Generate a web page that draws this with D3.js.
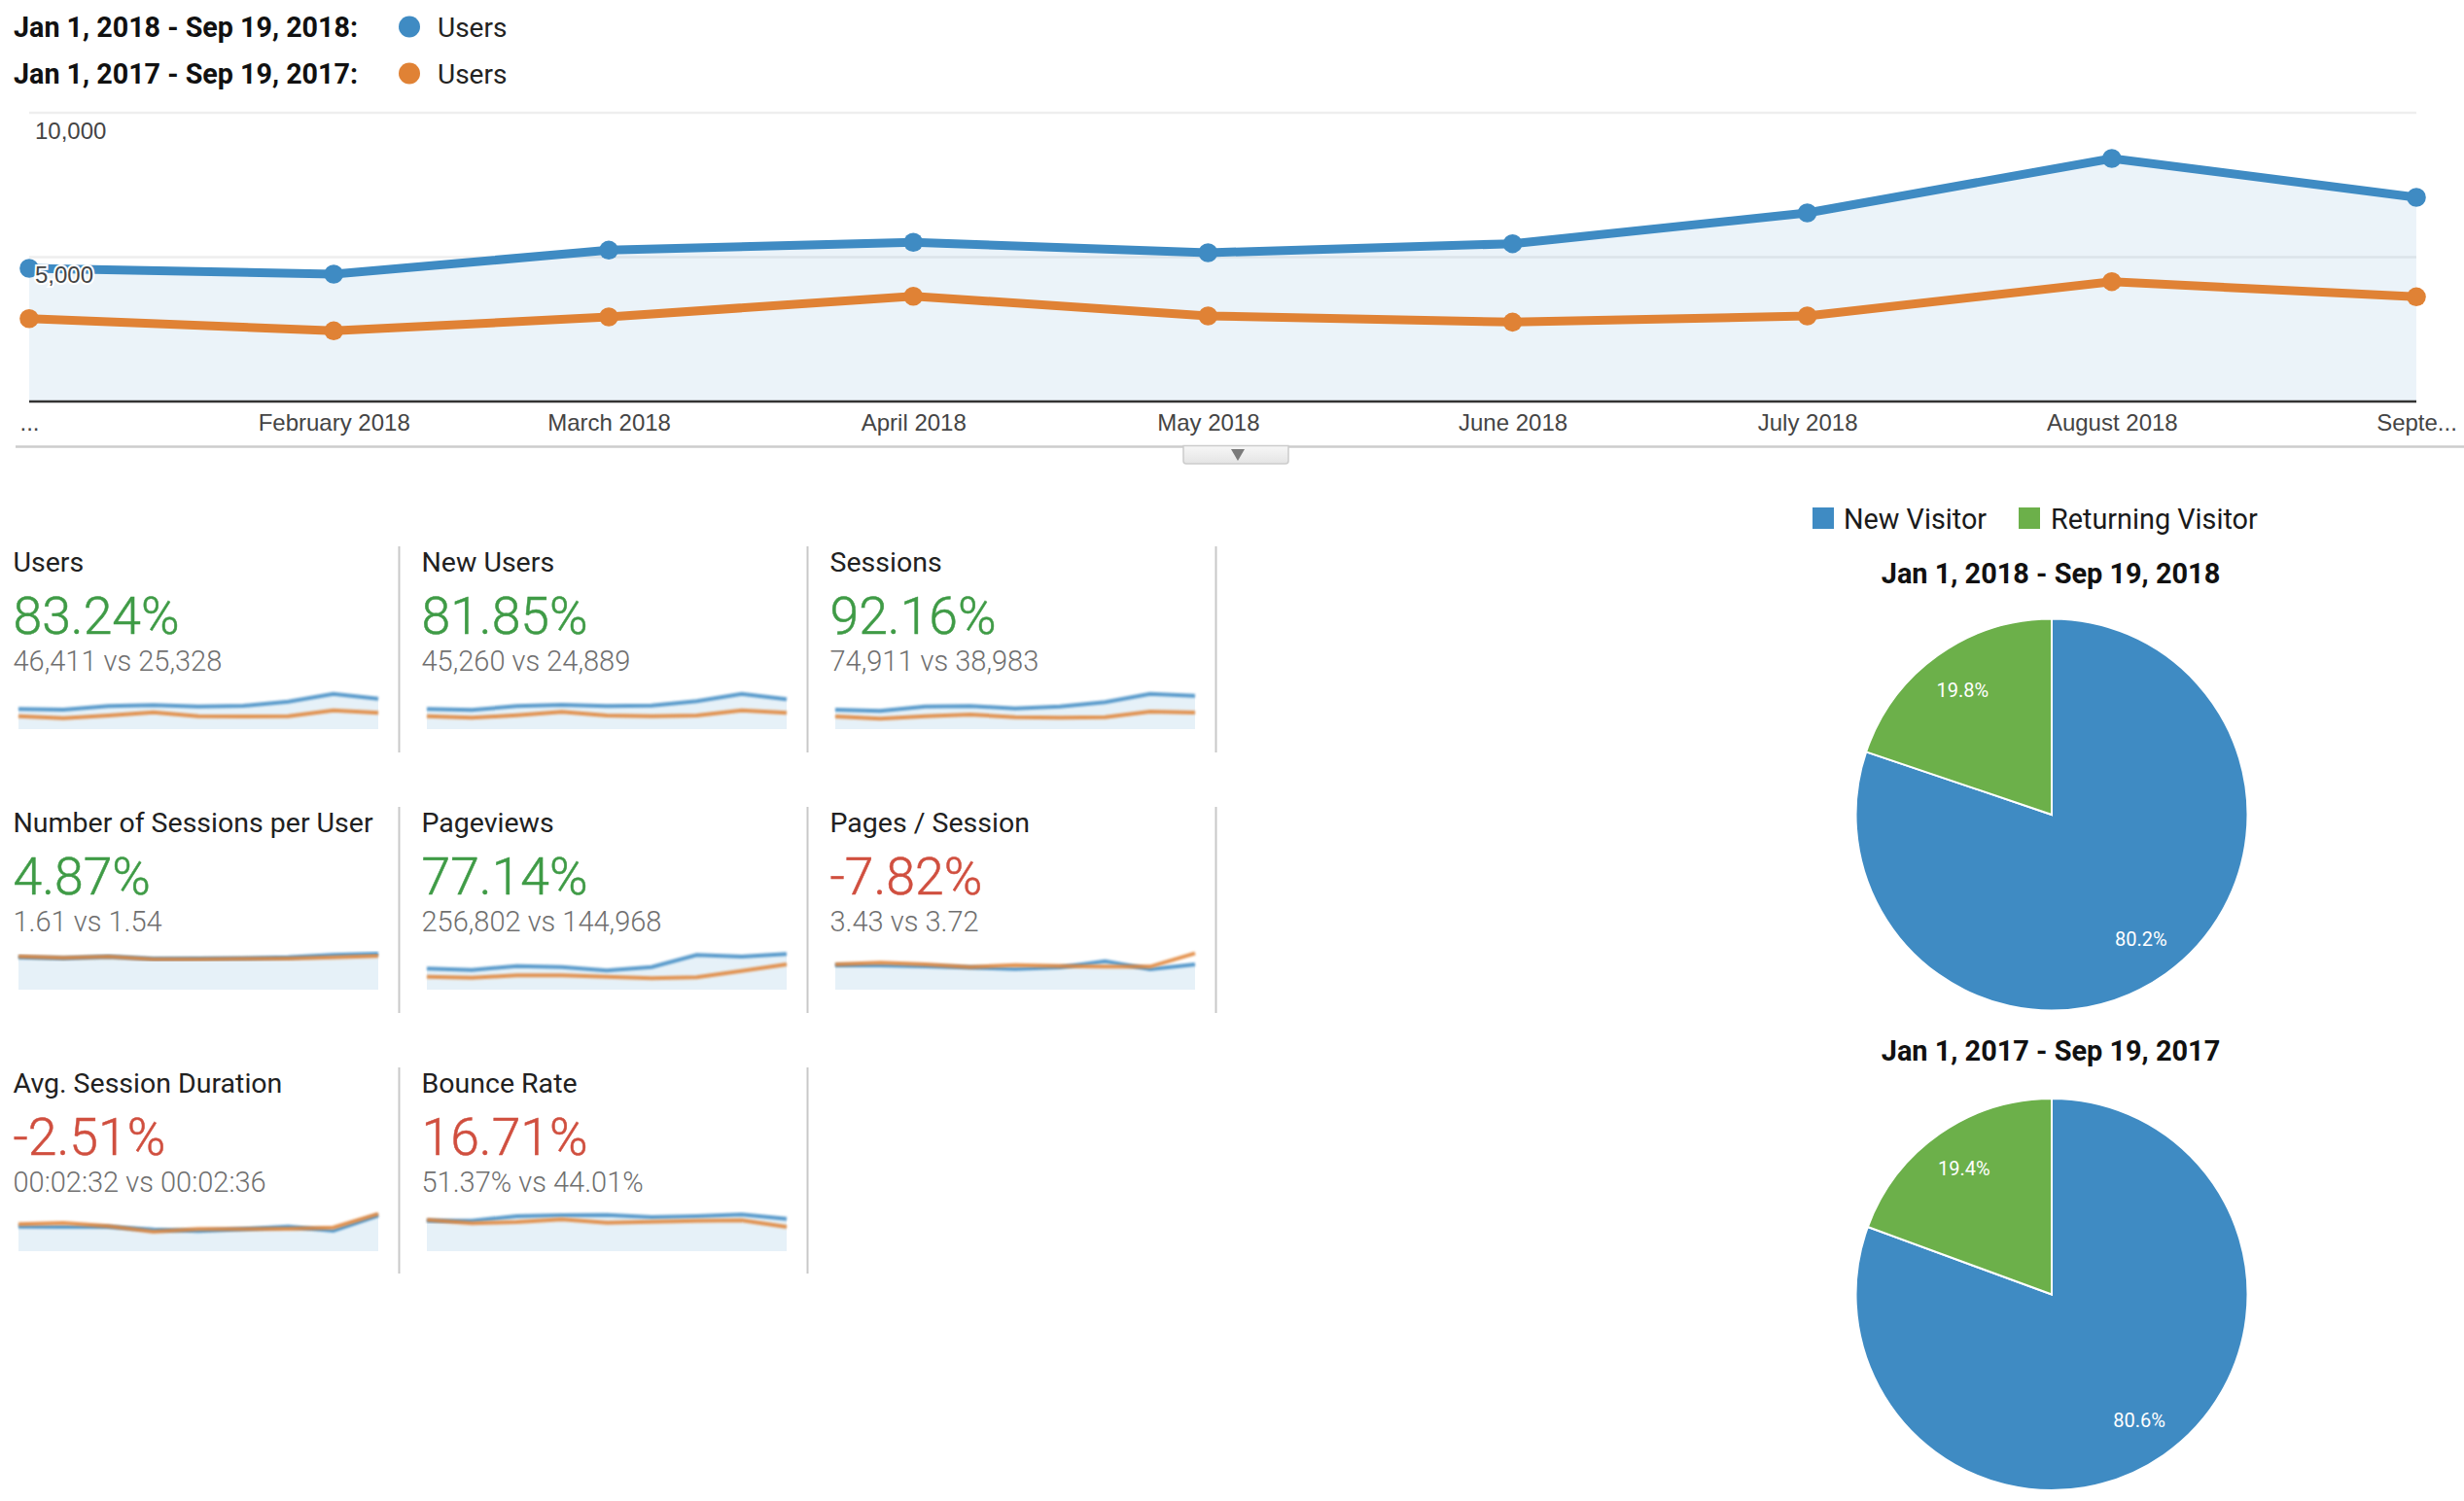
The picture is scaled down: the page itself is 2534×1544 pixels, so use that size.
<!DOCTYPE html>
<html>
<head>
<meta charset="utf-8">
<script src="https://d3js.org/d3.v7.min.js"></script>
<style>
  html, body { margin: 0; padding: 0; background: #fff; }
  svg { display: block; }
  text { font-family: Roboto, sans-serif; }
  .axis text { font-family: "Liberation Sans", Arial, sans-serif; fill: #444; font-size: 24px; }
  .axis path, .axis line { display: none; }
</style>
</head>
<body>
<script>
const width = 2534, height = 1544;

// main chart
const months = ["2018-01-01", "2018-02-01", "2018-03-01", "2018-04-01", "2018-05-01",
                "2018-06-01", "2018-07-01", "2018-08-01", "2018-09-01"];
const monthLabels = ["...", "February 2018", "March 2018", "April 2018", "May 2018",
                     "June 2018", "July 2018", "August 2018", "Septe..."];
const users2018 = [4613, 4411, 5242, 5512, 5152, 5465, 6532, 8418, 7070];
const users2017 = [2872, 2447, 2929, 3646, 2963, 2750, 2963, 4152, 3626];
const yTicks = [5000, 10000];
const rangeLabels = ["Jan 1, 2018 - Sep 19, 2018", "Jan 1, 2017 - Sep 19, 2017"];

// score cards
const cardTitles = ["Users", "New Users", "Sessions", "Number of Sessions per User", "Pageviews",
                    "Pages / Session", "Avg. Session Duration", "Bounce Rate"];
const cardDeltas = ["83.24%", "81.85%", "92.16%", "4.87%", "77.14%", "-7.82%", "-2.51%", "16.71%"];
const cardCompare = ["46,411 vs 25,328", "45,260 vs 24,889", "74,911 vs 38,983", "1.61 vs 1.54",
                     "256,802 vs 144,968", "3.43 vs 3.72", "00:02:32 vs 00:02:36", "51.37% vs 44.01%"];
const cardGood = [true, true, true, true, true, false, false, false];

const sparkCurrent = [
  [20.7, 20, 23.7, 24.7, 23.3, 24, 28.3, 36.3, 31.3],
  [20.7, 19.7, 23.7, 25, 23.7, 24.3, 28.7, 36.3, 30.7],
  [20, 18.7, 23.3, 23.7, 21.3, 23.3, 27.7, 36.3, 34.3],
  [33.3, 32.3, 34, 31.7, 32, 32.3, 33.3, 35.7, 37],
  [21.7, 20.3, 24.3, 23.3, 19.7, 23.3, 35.7, 34, 36.7],
  [25, 25, 24, 22.7, 21.3, 23, 29.3, 21, 26],
  [25.3, 25, 25, 22.3, 20.7, 22.7, 25.3, 21, 36.7],
  [31.3, 31.3, 36, 37, 37.3, 35, 36, 37.7, 33.3]
];
const sparkPrevious = [
  [13.3, 11.3, 14, 17.3, 13.3, 13, 13.3, 19.3, 16.7],
  [13.3, 11.7, 14.3, 17.7, 14, 13.3, 14, 19.3, 16.7],
  [13, 10.7, 13.3, 15, 12.3, 11.7, 12.3, 18, 17],
  [34.3, 32.7, 34, 31.3, 31.3, 31.7, 32, 33.3, 34.7],
  [13.3, 12.3, 14.7, 14.7, 13.3, 11.7, 12.7, 19.3, 26],
  [26, 27.7, 26, 23.3, 25.3, 24.3, 23.7, 23.7, 37.3],
  [27.7, 29, 25.7, 20, 22.7, 22.7, 23, 24.3, 38.3],
  [32.3, 28.7, 30, 32.7, 29.3, 30.3, 31.3, 31.7, 25]
];

// pies
const visitorTypes = ["New Visitor", "Returning Visitor"];
const visitors2018 = [80.2, 19.8];
const visitors2017 = [80.6, 19.4];

const blue = "#3f8bc3", orange = "#e08235", green = "#6cb04a";
const parseDay = d3.timeParse("%Y-%m-%d");
const dates = months.map(parseDay);

const svg = d3.select("body").append("svg")
    .attr("width", width)
    .attr("height", height);

const defs = svg.append("defs");
defs.append("filter").attr("id", "soft")
    .attr("x", "-5%").attr("y", "-50%").attr("width", "110%").attr("height", "200%")
  .append("feGaussianBlur").attr("stdDeviation", 1);
const tabGrad = defs.append("linearGradient").attr("id", "tab")
    .attr("x1", 0).attr("x2", 0).attr("y1", 0).attr("y2", 1);
tabGrad.append("stop").attr("offset", 0).attr("stop-color", "#f7f7f7");
tabGrad.append("stop").attr("offset", 1).attr("stop-color", "#e4e4e4");

// top legend
[0, 1].forEach(function(i) {
  const base = 38 + i * 48;
  svg.append("text")
      .attr("x", 14).attr("y", base)
      .attr("font-size", 28.7).attr("font-weight", 700).attr("fill", "#111")
      .text(rangeLabels[i] + ":");
  svg.append("circle")
      .attr("cx", 421).attr("cy", base - 10.5).attr("r", 11)
      .attr("fill", i == 0 ? blue : orange);
  svg.append("text")
      .attr("x", 450).attr("y", base)
      .attr("font-size", 28).attr("fill", "#222")
      .text("Users");
});

// main line chart
const x = d3.scaleTime().domain([dates[0], dates[8]]).range([30, 2485]);
const y = d3.scaleLinear().domain([0, 10000]).range([413, 116]);

const grid = svg.append("g");
grid.selectAll("line").data(yTicks).join("line")
    .attr("x1", 30).attr("x2", 2485)
    .attr("y1", y).attr("y2", y)
    .attr("stroke", "#eeeeee").attr("stroke-width", 2.5);

const rows2018 = dates.map((d, i) => ({date: d, value: users2018[i]}));
const rows2017 = dates.map((d, i) => ({date: d, value: users2017[i]}));

svg.append("path").datum(rows2018)
    .attr("fill", blue).attr("fill-opacity", 0.1)
    .attr("d", d3.area().x(d => x(d.date)).y0(y(0)).y1(d => y(d.value)));

svg.append("line")
    .attr("x1", 30).attr("x2", 2485)
    .attr("y1", y(0)).attr("y2", y(0))
    .attr("stroke", "#333").attr("stroke-width", 2.5);

const line = d3.line().x(d => x(d.date)).y(d => y(d.value));
[[rows2018, blue], [rows2017, orange]].forEach(function(s) {
  svg.append("path").datum(s[0])
      .attr("fill", "none").attr("stroke", s[1]).attr("stroke-width", 9)
      .attr("d", line);
  svg.append("g").selectAll("circle").data(s[0]).join("circle")
      .attr("cx", d => x(d.date)).attr("cy", d => y(d.value))
      .attr("r", 9.8).attr("fill", s[1]);
});

const yAxis = svg.append("g").attr("class", "axis")
    .attr("transform", "translate(30,0)")
    .call(d3.axisRight(y).tickValues(yTicks).tickSize(0).tickPadding(6).tickFormat(d3.format(",")));
yAxis.selectAll("text")
    .attr("dy", 26)
    .attr("stroke", "#fff").attr("stroke-width", 4).attr("paint-order", "stroke");

const xAxis = svg.append("g").attr("class", "axis")
    .attr("transform", "translate(0,424)")
    .call(d3.axisBottom(x).tickValues(dates).tickSize(0).tickPadding(0)
      .tickFormat((d, i) => monthLabels[i]));
xAxis.selectAll("text").attr("dy", 19);

// divider under the chart and the little collapse tab
[[16, 1217], [1325, width]].forEach(function(span) {
  svg.append("line")
      .attr("x1", span[0]).attr("x2", span[1]).attr("y1", 459.5).attr("y2", 459.5)
      .attr("stroke", "#ccc").attr("stroke-width", 2.5);
});
svg.append("path")
    .attr("d", "M1217,458.5V474q0,3 3,3H1322q3,0 3,-3V458.5Z")
    .attr("fill", "url(#tab)").attr("stroke", "#ccc").attr("stroke-width", 1.5);
svg.append("path")
    .attr("d", d3.symbol(d3.symbolTriangle, 85))
    .attr("transform", "translate(1273,466) rotate(180)")
    .attr("fill", "#7a7a7a");

// score cards
const colX = [14, 434, 854], rowTop = [562, 830, 1098], sparkBase = [750, 1018, 1287];
const sparkX = d3.scalePoint().domain(months).range([0, 370]);
const sparkY = d3.scaleLinear().domain([0, 40]).range([0, -40]);

cardTitles.forEach(function(title, i) {
  const col = i % 3, row = Math.floor(i / 3);
  const g = svg.append("g").attr("transform", `translate(${colX[col]},${rowTop[row]})`);

  g.append("text").attr("x", -0.5).attr("y", 25.5)
      .attr("font-size", 28.5).attr("fill", "#212121")
      .text(title);
  g.append("text").attr("x", -0.5).attr("y", 90)
      .attr("font-size", 53.5).attr("font-weight", 300)
      .attr("fill", cardGood[i] ? "#3f9b46" : "#d04f3f")
      .attr("stroke", cardGood[i] ? "#3f9b46" : "#d04f3f").attr("stroke-width", 0.5)
      .text(cardDeltas[i]);
  g.append("text").attr("x", -0.5).attr("y", 127.5)
      .attr("font-size", 29).attr("font-weight", 300).attr("fill", "#6f6f6f")
      .text(cardCompare[i]);

  g.append("line")
      .attr("x1", 396.5).attr("x2", 396.5).attr("y1", 0).attr("y2", 212)
      .attr("stroke", "#c8c8c8").attr("stroke-width", 2);

  const spark = svg.append("g")
      .attr("transform", `translate(${colX[col] + 5},${sparkBase[row]})`);
  spark.append("path").datum(sparkCurrent[i])
      .attr("fill", "#e6f1f8")
      .attr("d", d3.area().x((d, j) => sparkX(months[j])).y0(0).y1(d => sparkY(d)));
  const sparkLine = d3.line().x((d, j) => sparkX(months[j])).y(d => sparkY(d));
  [[sparkCurrent[i], blue], [sparkPrevious[i], orange]].forEach(function(s) {
    spark.append("path").datum(s[0])
        .attr("fill", "none").attr("stroke", s[1]).attr("stroke-width", 4)
        .attr("stroke-opacity", 0.85).attr("filter", "url(#soft)")
        .attr("d", sparkLine);
  });
});

// pie legend
const legendSwatch = [1864, 2076], legendText = [1896, 2109];
visitorTypes.forEach(function(name, i) {
  svg.append("rect")
      .attr("x", legendSwatch[i]).attr("y", 522).attr("width", 22).attr("height", 22)
      .attr("fill", i == 0 ? blue : green);
  svg.append("text")
      .attr("x", legendText[i]).attr("y", 543.5)
      .attr("font-size", 28.8).attr("fill", "#1a1a1a")
      .text(name);
});

// pies
const pieGen = d3.pie().sort(null);
const arc = d3.arc().innerRadius(0).outerRadius(201.5);
const labelArc = d3.arc().innerRadius(157.5).outerRadius(157.5);
const pieCy = [838, 1331.5], titleY = [599.5, 1091];

[visitors2018, visitors2017].forEach(function(values, p) {
  svg.append("text")
      .attr("x", 2109).attr("y", titleY[p])
      .attr("text-anchor", "middle")
      .attr("font-size", 28.9).attr("font-weight", 700).attr("fill", "#111")
      .text(rangeLabels[p]);

  const g = svg.append("g").attr("transform", `translate(2110,${pieCy[p]})`);
  const slices = pieGen(values);
  g.selectAll("path").data(slices).join("path")
      .attr("d", arc)
      .attr("fill", (d, i) => i == 0 ? blue : green)
      .attr("stroke", "#fff").attr("stroke-width", 2);

  g.selectAll("text").data(slices).join("text")
      .attr("transform", d => `translate(${labelArc.centroid(d)})`)
      .attr("dy", "0.35em")
      .attr("text-anchor", "middle")
      .attr("font-family", "Liberation Sans, Arial, sans-serif")
      .attr("font-size", 20).attr("fill", "#fff")
      .text(d => d.value.toFixed(1) + "%");
});
</script>
</body>
</html>
